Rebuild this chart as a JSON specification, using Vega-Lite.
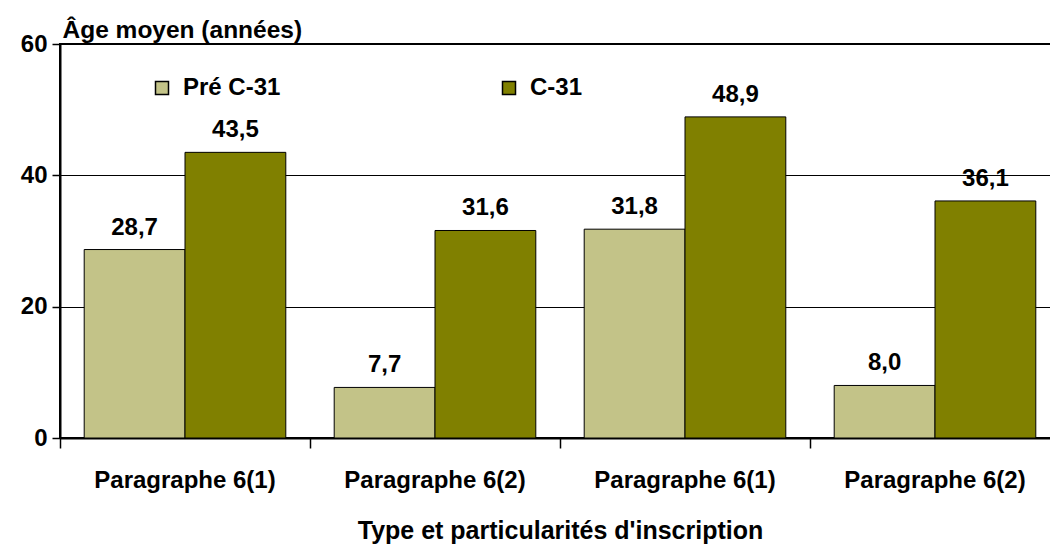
{
  "$schema": "https://vega.github.io/schema/vega-lite/v6.json",
  "width": 1000,
  "height": 394,
  "autosize": "none",
  "padding": {"left": 60, "top": 44, "right": 0, "bottom": 106},
  "background": "white",
  "config": {
    "locale": {"number": {"decimal": ",", "thousands": " ", "grouping": [3], "currency": ["", " €"]}},
    "view": {"stroke": "black", "strokeWidth": 2},
    "font": "Liberation Sans"
  },
  "data": {
    "values": [
      {"cat": "Paragraphe 6(1)|1", "serie": "Pré C-31", "v": 28.7},
      {"cat": "Paragraphe 6(1)|1", "serie": "C-31", "v": 43.5},
      {"cat": "Paragraphe 6(2)|2", "serie": "Pré C-31", "v": 7.7},
      {"cat": "Paragraphe 6(2)|2", "serie": "C-31", "v": 31.6},
      {"cat": "Paragraphe 6(1)|3", "serie": "Pré C-31", "v": 31.8},
      {"cat": "Paragraphe 6(1)|3", "serie": "C-31", "v": 48.9},
      {"cat": "Paragraphe 6(2)|4", "serie": "Pré C-31", "v": 8.0},
      {"cat": "Paragraphe 6(2)|4", "serie": "C-31", "v": 36.1}
    ]
  },
  "encoding": {
    "x": {
      "field": "cat", "type": "nominal", "sort": null,
      "scale": {"paddingInner": 0, "paddingOuter": 0},
      "axis": {
        "title": "Type et particularités d'inscription",
        "titleFont": "Liberation Sans", "titleFontSize": 25, "titleFontWeight": "bold", "titleColor": "black",
        "titlePadding": 26,
        "labelExpr": "split(datum.value,'|')[0]",
        "labelLimit": 0,
        "labelAngle": 0, "labelFont": "Liberation Sans", "labelFontSize": 24, "labelFontWeight": "bold", "labelColor": "black",
        "labelPadding": 20, "labelBaseline": "top",
        "bandPosition": 0, "tickSize": 10, "tickColor": "black", "tickWidth": 1.5,
        "domainColor": "black", "domainWidth": 2, "grid": false
      }
    },
    "xOffset": {
      "field": "serie", "type": "nominal", "sort": ["Pré C-31", "C-31"],
      "scale": {"paddingInner": 0, "paddingOuter": 0.24}
    },
    "y": {
      "field": "v", "type": "quantitative",
      "scale": {"domain": [0, 60], "nice": false},
      "axis": {
        "values": [0, 20, 40, 60],
        "title": "Âge moyen (années)",
        "titleAngle": 0, "titleAlign": "left", "titleBaseline": "alphabetic",
        "titleX": 2, "titleY": -7,
        "titleFont": "Liberation Sans", "titleFontSize": 24.5, "titleFontWeight": "bold", "titleColor": "black",
        "labelFont": "Liberation Sans", "labelFontSize": 24, "labelFontWeight": "bold", "labelColor": "black",
        "labelPadding": 5, "tickSize": 8, "tickColor": "black", "tickWidth": 1.5,
        "domainColor": "black", "domainWidth": 2,
        "grid": true, "gridColor": "black", "gridWidth": 1
      }
    }
  },
  "layer": [
    {
      "mark": {"type": "bar", "stroke": "black", "strokeWidth": 1},
      "encoding": {
        "color": {
          "field": "serie", "type": "nominal", "sort": ["Pré C-31", "C-31"],
          "scale": {"domain": ["Pré C-31", "C-31"], "range": ["#C3C388", "#808000"]},
          "legend": {
            "title": null, "orient": "none", "direction": "horizontal", "columns": 2,
            "legendX": 90, "legendY": 32, "padding": 0,
            "columnPadding": 216,
            "symbolType": "square", "symbolSize": 169, "symbolStrokeColor": "black", "symbolStrokeWidth": 1.5,
            "labelFont": "Liberation Sans", "labelFontSize": 24, "labelFontWeight": "bold", "labelColor": "black",
            "labelOffset": 9
          }
        }
      }
    },
    {
      "mark": {"type": "text", "dy": -15, "baseline": "alphabetic", "font": "Liberation Sans", "fontSize": 24, "fontWeight": "bold", "color": "black"},
      "encoding": {
        "text": {"field": "v", "type": "quantitative", "format": ".1f"}
      }
    }
  ]
}
